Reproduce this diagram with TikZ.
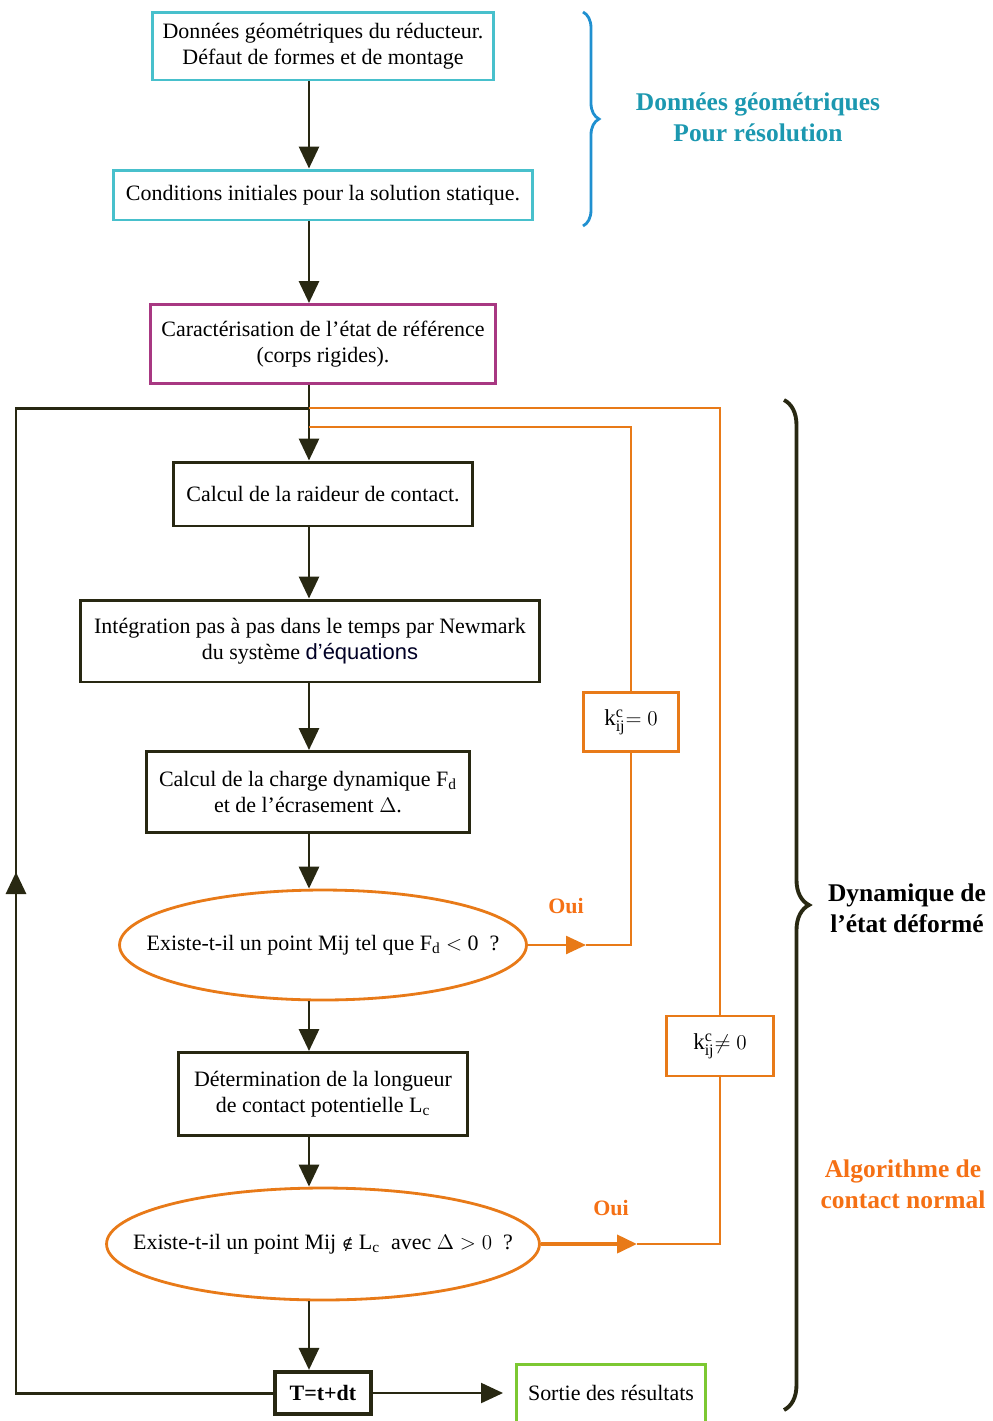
\documentclass[tikz,border=0pt]{standalone}
\usepackage{fontspec}
\setmainfont{Liberation Serif}
\newfontfamily\sansfont{Liberation Sans}
\newfontfamily\symbfont{DejaVu Serif}
\usetikzlibrary{arrows.meta,positioning,shapes.geometric,decorations.pathreplacing,calc}

\definecolor{flowline}{RGB}{40,40,18}
\definecolor{cyanbox}{RGB}{72,192,204}
\definecolor{magbox}{RGB}{168,56,130}
\definecolor{orangeline}{RGB}{232,122,24}
\definecolor{orangetxt}{RGB}{245,112,20}
\definecolor{greenbox}{RGB}{124,200,50}
\definecolor{bracecol}{RGB}{32,144,208}
\definecolor{tealtxt}{RGB}{28,152,176}

\begin{document}
\begin{tikzpicture}[
    x=0.02cm, y=-0.02cm,
    >={Triangle[length=4.4mm,width=4mm]},
    box/.style={
        rectangle,
        draw=#1,
        line width=1.7pt,
        fill=white,
        align=center,
        inner sep=2pt,
        font=\fontsize{12.5}{14.7}\selectfont
    },
    question/.style={
        ellipse,
        draw=orangeline,
        line width=1.6pt,
        fill=white,
        inner sep=0pt,
        font=\fontsize{12.5}{14.7}\selectfont
    },
    kbox/.style={
        rectangle,
        draw=orangeline,
        line width=1.5pt,
        fill=white,
        minimum width=1.9cm,
        minimum height=1.18cm,
        font=\fontsize{13}{15}\selectfont
    },
    flow/.style={->,line width=1.7pt,flowline},
    orangeflow/.style={line width=1.4pt,orangeline},
    sidelabel/.style={
        font=\fontsize{14.5}{17.5}\selectfont\bfseries,
        align=center
    }
]

\useasboundingbox (0,0) rectangle (993,1421);

% spine of the main flow
\coordinate (spine) at (309,0);

% --- Static part (top) ---
\node[box=cyanbox, minimum width=6.84cm, minimum height=1.36cm] (geom) at (323,46)
    {Données géométriques du réducteur.\\Défaut de formes et de montage};
\node[box=cyanbox, minimum width=8.4cm, minimum height=1.0cm] (init) at (323,195)
    {Conditions initiales pour la solution statique.};
\node[box=magbox, minimum width=6.92cm, minimum height=1.58cm] (ref) at (323,344)
    {Caractérisation de l’état de référence\\(corps rigides).};

% --- Dynamic loop ---
\node[box=flowline, minimum width=6.0cm, minimum height=1.28cm] (raideur) at (323,494)
    {Calcul de la raideur de contact.};
\node[box=flowline, minimum width=9.18cm, minimum height=1.64cm] (newmark) at (310,641)
    {Intégration pas à pas dans le temps par Newmark\\du système {\sansfont\color{black!85!blue}d’équations}};
\node[box=flowline, minimum width=6.48cm, minimum height=1.62cm] (charge) at (308,792)
    {Calcul de la charge dynamique F\textsubscript{d}\\et de l’écrasement $\Delta$.};
\node[question, minimum width=8.14cm, minimum height=2.2cm] (negf) at (323,945)
    {\makebox[0pt]{Existe-t-il un point Mij tel que F\textsubscript{d} $<$ 0\ \ ?}};
\node[box=flowline, minimum width=5.8cm, minimum height=1.66cm] (longueur) at (323,1094)
    {Détermination de la longueur\\de contact potentielle L\textsubscript{c}};
\node[question, minimum width=8.66cm, minimum height=2.24cm] (ecras) at (323,1244)
    {\makebox[0pt]{Existe-t-il un point Mij {\symbfont\small ∉} L\textsubscript{c}\ \ avec $\Delta > 0$\ \ ?}};
\node[box=flowline, line width=2.4pt, minimum width=1.92cm, minimum height=0.84cm,
      font=\fontsize{12.5}{14}\selectfont\bfseries] (tstep) at (323,1393) {T=t+dt};
\node[box=greenbox, minimum width=3.78cm, minimum height=1.16cm] (sortie) at (611,1393)
    {Sortie des résultats};

% stiffness boxes on the orange branches
\node[kbox] (kzero) at (631,722) {$\mathrm{k}^{\mathrm{c}}_{\mathrm{ij}}{=}\ 0$};
\node[kbox, minimum width=2.14cm, minimum height=1.2cm] (knonzero) at (720,1046)
    {$\mathrm{k}^{\mathrm{c}}_{\mathrm{ij}}{\neq}\ 0$};

% loop junctions
\coordinate (loopL) at (16,408);
\coordinate (jblack) at (309,408);
\coordinate (jorange) at (309,427);
\coordinate (uparrow) at (16,872);
\coordinate (oui1tip) at (586,945);
\coordinate (oui2tip) at (637,1244);

% Main vertical arrows
\draw[flow] (geom.south -| spine) -- (init.north -| spine);
\draw[flow] (init.south -| spine) -- (ref.north -| spine);
\draw[flow] (ref.south -| spine) -- (raideur.north -| spine);
\draw[flow] (raideur.south -| spine) -- (newmark.north -| spine);
\draw[flow] (newmark.south -| spine) -- (charge.north -| spine);
\draw[flow] (charge.south -| spine) -- (negf.north -| spine);
\draw[flow] (negf.south -| spine) -- (longueur.north -| spine);
\draw[flow] (longueur.south -| spine) -- (ecras.north -| spine);
\draw[flow] (ecras.south -| spine) -- (tstep.north -| spine);

% Time loop back to the top
\draw[line width=1.7pt,flowline] (tstep.west) -| (loopL) -- (jblack);
\draw[flow] (tstep.west -| loopL) -- (uparrow);
\draw[->,line width=1.2pt,flowline,shorten >=2.4mm] (tstep.east) -- (sortie.west);

% Orange branches (contact algorithm)
\draw[orangeflow] (jorange) -| (kzero.north);
\draw[orangeflow] (kzero.south) |- (oui1tip);
\draw[orangeflow,->,>={Triangle[length=4mm,width=3.6mm]}] (negf.east) -- (oui1tip);
\draw[orangeflow] (jblack) -| (knonzero.north);
\draw[orangeflow] (knonzero.south) |- (oui2tip);
\draw[orangeflow,line width=2.2pt,->,>={Triangle[length=4mm,width=3.6mm]}] (ecras.east) -- (oui2tip);

\node[font=\fontsize{12.5}{14}\selectfont\bfseries, text=orangetxt] (oui1) at (566,906) {Oui};
\node[font=\fontsize{12.5}{14}\selectfont\bfseries, text=orangetxt] (oui2) at (611,1208) {Oui};

% Braces and side labels
\draw[bracecol, line width=1.6pt, decorate, decoration={brace, amplitude=0.32cm}]
    (583,12) -- (583,226);
\node[sidelabel, text=tealtxt] (geolbl) at (758,117) {Données géométriques\\Pour résolution};

\draw[flowline, line width=2.2pt, decorate, decoration={brace, amplitude=0.5cm}]
    (784,400) -- (784,1410);
\node[sidelabel, text=black] (dynlbl) at (907,908) {Dynamique de\\l’état déformé};
\node[sidelabel, text=orangetxt] (algolbl) at (903,1184) {Algorithme de\\contact normal};

\end{tikzpicture}
\end{document}
